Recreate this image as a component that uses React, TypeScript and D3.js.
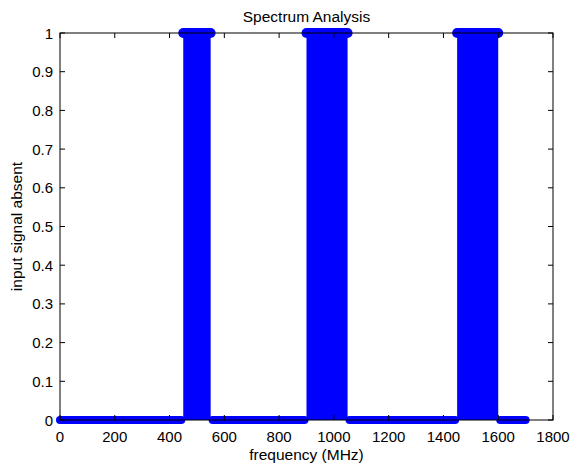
import React from "react";
import * as d3 from "d3";

// band edges (MHz) and the level held over each interval
const edges = [0, 450, 550, 900, 1050, 1450, 1600, 1700];
const levels = [0, 1, 0, 1, 0, 1, 0];
const xTicks = [0, 200, 400, 600, 800, 1000, 1200, 1400, 1600, 1800];
const yTicks = [0, 0.1, 0.2, 0.3, 0.4, 0.5, 0.6, 0.7, 0.8, 0.9, 1];

const W = 572;
const H = 464;
const margin = { top: 33, right: 19, bottom: 44, left: 60 };
const font = "'Liberation Sans', Arial, sans-serif";
const blue = "#0000ff";

export default function App() {
  const x = d3.scaleLinear().domain([0, 1800]).range([margin.left, W - margin.right]);
  const y = d3.scaleLinear().domain([0, 1]).range([H - margin.bottom, margin.top]);
  const [x0, x1] = x.range();
  const [y0, y1] = y.range();

  const segs = levels.map((lv, i) => ({ a: edges[i], b: edges[i + 1], lv }));

  return (
    <svg
      width={W}
      height={H}
      style={{ position: "absolute", left: 0, top: 0, background: "#fff" }}
      fontFamily={font}
    >
      <rect x={0} y={0} width={W} height={H} fill="#fff" />

      {/* filled bands where the signal is absent */}
      {segs
        .filter((s) => s.lv === 1)
        .map((s, i) => (
          <rect
            key={"f" + i}
            x={x(s.a)}
            y={y(1)}
            width={x(s.b) - x(s.a)}
            height={y(0) - y(1)}
            fill={blue}
          />
        ))}

      {/* thick marker line */}
      {segs.map((s, i) => (
        <line
          key={"l" + i}
          x1={x(s.a) + (s.lv === 0 && i > 0 ? 2 : 0)}
          x2={x(s.b) - (s.lv === 0 && i < segs.length - 1 ? 2 : 0)}
          y1={y(s.lv)}
          y2={y(s.lv)}
          stroke={blue}
          strokeWidth={s.lv === 1 ? 10 : 8}
          strokeLinecap="round"
        />
      ))}

      {/* axes box */}
      <rect x={x0} y={y1} width={x1 - x0} height={y0 - y1} fill="none" stroke="#000" strokeWidth={1} />

      {xTicks.map((t) => (
        <g key={"xt" + t}>
          <line x1={x(t)} x2={x(t)} y1={y0} y2={y0 - 5} stroke="#000" />
          <line x1={x(t)} x2={x(t)} y1={y1} y2={y1 + 5} stroke="#000" />
          <text x={x(t)} y={y0 + 22} textAnchor="middle" fontSize={15}>
            {t}
          </text>
        </g>
      ))}

      {yTicks.map((t) => (
        <g key={"yt" + t}>
          <line x1={x0} x2={x0 + 5} y1={y(t)} y2={y(t)} stroke="#000" />
          <line x1={x1} x2={x1 - 5} y1={y(t)} y2={y(t)} stroke="#000" />
          <text x={x0 - 7} y={y(t) + 5.5} textAnchor="end" fontSize={15}>
            {t}
          </text>
        </g>
      ))}

      <text x={(x0 + x1) / 2} y={22} textAnchor="middle" fontSize={15.5}>
        Spectrum Analysis
      </text>
      <text x={(x0 + x1) / 2} y={460} textAnchor="middle" fontSize={15.5}>
        frequency (MHz)
      </text>
      <text
        transform={`translate(22,${(y0 + y1) / 2}) rotate(-90)`}
        textAnchor="middle"
        fontSize={15.5}
      >
        input signal absent
      </text>
    </svg>
  );
}
